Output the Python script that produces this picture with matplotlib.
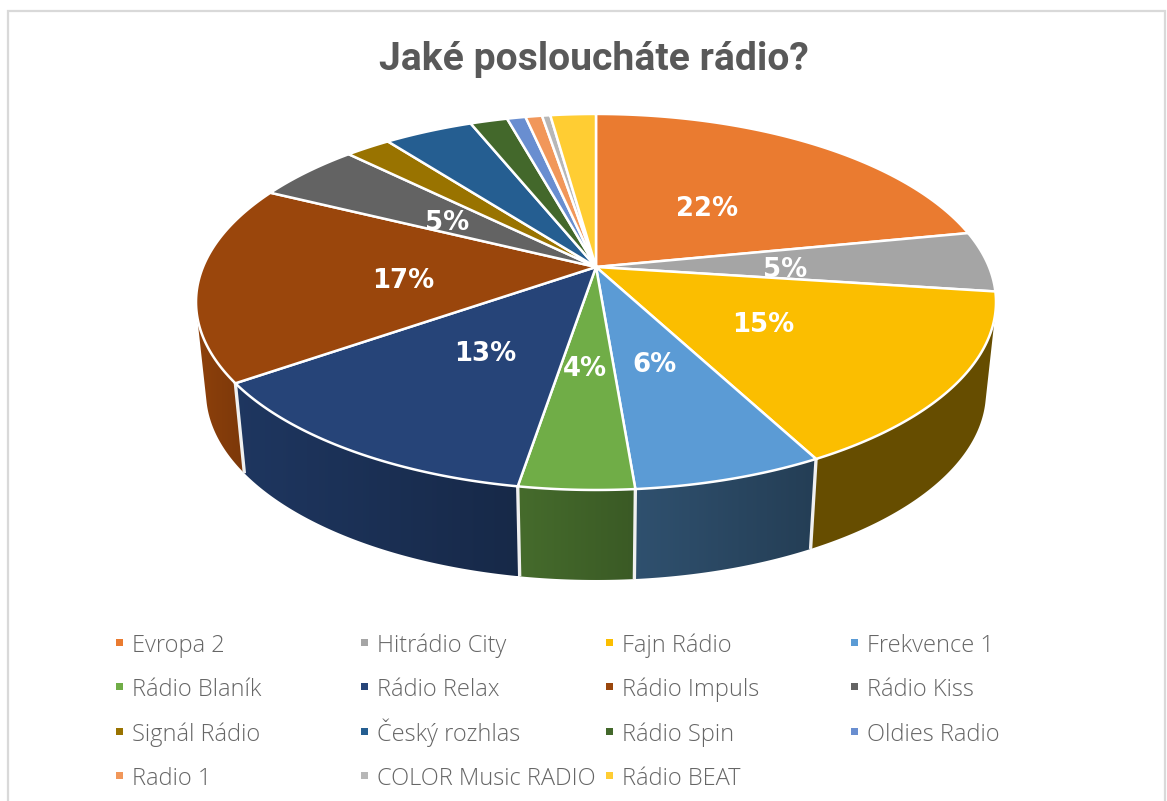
import numpy as np
from matplotlib import pyplot as plt
from matplotlib.patches import Polygon, Rectangle
from matplotlib.colors import to_rgb

stanice = ["Evropa 2", "Hitrádio City", "Fajn Rádio", "Frekvence 1",
           "Rádio Blaník", "Rádio Relax", "Rádio Impuls", "Rádio Kiss",
           "Signál Rádio", "Český rozhlas", "Rádio Spin", "Oldies Radio",
           "Radio 1", "COLOR Music RADIO", "Rádio BEAT"]
podily = [21.9, 5.2, 15.15, 6.45, 3.9, 12.7, 17.0, 5.1,
          2.2, 4.3, 1.8, 0.9, 0.8, 0.4, 2.2]
barvy = ["#EA7B30", "#A5A5A5", "#FBBE00", "#5B9BD5", "#70AD47", "#264478",
         "#9A460C", "#636363", "#997300", "#255E91", "#43682B", "#698ED0",
         "#F1975A", "#B7B7B7", "#FFCD33"]

# popisky jen u vybranych vysecu: index -> pozice stredu textu
popisky = {0: (707, 209), 1: (785, 270), 2: (763, 325), 3: (654, 365),
           4: (585, 369), 5: (485, 354), 6: (403, 281), 7: (447, 223)}

# ztmaveni boku vysece zleva doprava
stin = {2: (0.41, 0.41), 3: (0.52, 0.40), 4: (0.62, 0.52), 5: (0.80, 0.60),
        6: (0.92, 0.80)}

# geometrie disku v perspektive
CX, CY = 596, 267
RX, RY = 393, 181.5
PERSP = 0.186
HLOUBKA = 90
ZUZENI = 0.975


def horni_hrana(uhel):
    x = np.sin(uhel)
    y = -np.cos(uhel)
    w = 1 - PERSP * y
    return CX + RX * x / w, CY + RY * y / w


def dolni_hrana(uhel):
    x, y = horni_hrana(uhel)
    return CX + (x - CX) * ZUZENI, y + HLOUBKA


def nakresli_bok(ax, start, konec, barva, stiny):
    uhly = np.linspace(start, konec, 200)
    hx, hy = horni_hrana(uhly)
    dx, dy = dolni_hrana(uhly)
    # jen cast oblouku natocena k divakovi
    vpredu = np.gradient(hx) * (dy - hy) - np.gradient(hy) * (dx - hx) < 0
    hx, hy, dx, dy = hx[vpredu], hy[vpredu], dx[vpredu], dy[vpredu]
    obrys = np.vstack([np.column_stack([hx, hy]), np.column_stack([dx, dy])[::-1]])
    zaklad = np.array(to_rgb(barva))
    t = np.linspace(0, 1, 128)[:, None]
    prechod = (zaklad * (stiny[0] + (stiny[1] - stiny[0]) * t))[None, :, :]
    obr = ax.imshow(prechod, extent=(obrys[:, 0].min(), obrys[:, 0].max(),
                                     obrys[:, 1].max(), obrys[:, 1].min()),
                    aspect="auto", interpolation="bilinear", zorder=2)
    obr.set_clip_path(Polygon(obrys, closed=True, transform=ax.transData))


fig = plt.figure(figsize=(11.67, 8.01), dpi=100)
ax = fig.add_axes([0, 0, 1, 1])

ax.add_patch(Rectangle((8, 11), 1157, 820, facecolor="white", edgecolor="#D9D9D9",
                       linewidth=1.6, zorder=0))

ax.text(594, 70, "Jaké posloucháte rádio?", ha="center", va="baseline",
        fontsize=28.2, fontweight="bold", family="Roboto", color="#595959")

hranice = 2 * np.pi * np.concatenate([[0], np.cumsum(podily)]) / sum(podily)

# boky vpredu
for i, st in stin.items():
    nakresli_bok(ax, hranice[i], hranice[i + 1], barvy[i], st)

# deleni boku bilou carou
for i in [3, 4, 5, 6]:
    hx, hy = horni_hrana(hranice[i])
    dx, dy = dolni_hrana(hranice[i])
    ax.plot([hx, dx], [hy, dy], color="#F0F0F0", linewidth=2.4, zorder=3,
            solid_capstyle="butt")

# horni plocha
for i in range(len(podily)):
    uhly = np.linspace(hranice[i], hranice[i + 1], 80)
    x, y = horni_hrana(uhly)
    body = [(CX, CY)] + list(zip(x, y))
    ax.add_patch(Polygon(body, closed=True, facecolor=barvy[i], edgecolor="white",
                         linewidth=1.8, joinstyle="miter", zorder=4))

for i, (px, py) in popisky.items():
    ax.text(px, py, f"{podily[i]:.0f}%", ha="center", va="center", color="white",
            fontsize=18.7, fontweight="bold", family="DejaVu Sans", zorder=5)

# legenda
sloupce = [116, 361, 606, 851]
radky = [642, 686, 731, 775]
for i, nazev in enumerate(stanice):
    lx = sloupce[i % 4]
    ly = radky[i // 4]
    ax.add_patch(Rectangle((lx, ly - 3.5), 7, 7, facecolor=barvy[i], edgecolor="none", zorder=5))
    ax.text(lx + 16, ly + 10, nazev, ha="left", va="baseline", color="#666666", fontsize=17,
            family="Open Sans", fontweight="light")

ax.set_xlim(0, 1167)
ax.set_ylim(801, 0)
ax.axis("off")

fig.savefig("out.png", dpi=100)
